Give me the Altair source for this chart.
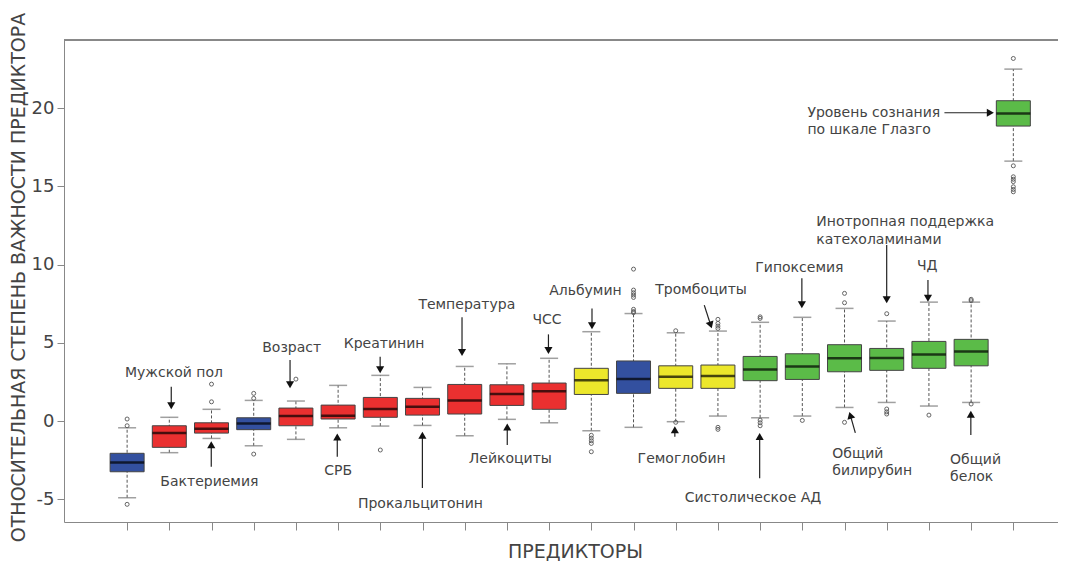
import math
import altair as alt
import pandas as pd

# ---------------- data ----------------
positions = list(range(1, 23))
groups = ["blue", "red", "red", "blue", "red", "red", "red", "red", "red", "red", "red",
          "yellow", "blue", "yellow", "yellow", "green", "green", "green", "green", "green",
          "green", "green"]
lower = [-4.90, -2.02, -1.11, -1.58, -1.17, -0.43, -0.32, -0.28, -0.94, 0.11, -0.11,
         -0.62, -0.40, -0.04, 0.32, 0.21, 0.32, 0.87, 1.19, 0.96, 1.19, 16.61]
q1 = [-3.24, -1.68, -0.77, -0.55, -0.30, 0.13, 0.24, 0.38, 0.45, 1.00, 0.75,
      1.70, 1.77, 2.09, 2.09, 2.58, 2.66, 3.15, 3.24, 3.37, 3.53, 18.85]
median = [-2.65, -0.77, -0.49, -0.15, 0.32, 0.34, 0.77, 0.92, 1.32, 1.73, 1.90,
          2.60, 2.69, 2.83, 2.88, 3.30, 3.49, 4.01, 4.03, 4.26, 4.45, 19.66]
q3 = [-2.06, -0.30, -0.11, 0.21, 0.83, 1.02, 1.51, 1.45, 2.34, 2.32, 2.43,
      3.37, 3.84, 3.53, 3.58, 4.13, 4.30, 4.88, 4.64, 5.09, 5.22, 20.47]
upper = [-0.43, 0.24, 0.75, 1.32, 1.28, 2.28, 2.92, 2.15, 3.49, 3.66, 4.01,
         5.71, 6.87, 5.64, 5.75, 6.31, 6.63, 7.20, 6.39, 7.60, 7.60, 22.49]

outlier_pos = [1, 1, 1, 3, 3, 4, 4, 4, 5, 7,
               12, 12, 12, 12, 12,
               13, 13, 13, 13, 13, 13, 13, 13,
               14, 14, 15, 15, 15, 15, 15, 15,
               16, 16, 16, 16, 16, 17, 18, 18, 18,
               19, 19, 19, 19, 20, 21, 21, 21,
               22, 22, 22, 22, 22, 22, 22, 22]
outlier_val = [0.13, -0.30, -5.32, 1.23, 2.36, 1.77, 1.45, -2.11, 2.68, -1.85,
               -0.91, -1.09, -1.26, -1.43, -1.96,
               9.71, 8.37, 8.20, 8.05, 7.90, 7.14, 7.00, 6.93,
               5.77, -0.08, 6.50, 6.24, 6.07, 5.92, -0.40, -0.53,
               6.66, 6.56, 0.06, -0.11, -0.30, 0.04, 7.56, 8.16, -0.08,
               6.86, 0.77, 0.59, 0.45, 0.38, 7.78, 7.69, 1.09,
               23.17, 16.31, 15.61, 15.45, 15.30, 14.97, 14.80, 14.65]

# centred annotation labels (category position, value)
label_text = ["Мужской пол", "Бактериемия", "Возраст", "СРБ", "Креатинин",
              "Прокальцитонин", "Температура", "Лейкоциты", "ЧСС", "Альбумин",
              "Тромбоциты", "Гемоглобин", "Систолическое АД", "Гипоксемия", "ЧД"]
label_x = [2.11, 2.95, 4.90, 6.00, 7.09, 7.95, 9.05, 10.08, 10.95, 11.86,
           14.60, 14.14, 15.83, 16.93, 19.96]
label_y = [3.07, -3.90, 4.70, -3.19, 4.92, -5.30, 7.41, -2.43, 6.45, 8.31,
           8.37, -2.43, -4.89, 9.81, 9.90]

# left-aligned two-line labels
mlabel_text = ["Общий\nбилирубин", "Инотропная поддержка\nкатехоламинами",
               "Общий\nбелок", "Уровень сознания\nпо шкале Глазго"]
mlabel_x = [17.71, 17.33, 20.50, 17.12]
mlabel_y = [-2.09, 12.70, -2.47, 19.69]

# arrows: start (x1, y1) -> tip (x2, y2)
arrow_x1 = [2.046, 2.994, 4.861, 5.980, 6.996, 7.997, 8.936, 10.008, 10.984, 12.016,
            14.676, 13.979, 15.989, 16.989, 18.256, 18.999, 19.977, 20.993, 20.367]
arrow_y1 = [2.19, -2.92, 3.90, -2.28, 4.11, -4.28, 6.63, -1.53, 5.54, 7.20,
            7.41, -1.00, -3.66, 9.12, -0.75, 11.25, 9.01, -0.89, 19.70]
arrow_x2 = [2.046, 2.994, 4.861, 5.980, 6.996, 7.997, 8.936, 10.008, 10.984, 12.016,
            14.854, 13.979, 15.989, 16.989, 18.115, 18.999, 19.977, 20.993, 21.540]
arrow_y2 = [0.75, -1.28, 2.09, -0.79, 3.05, -0.68, 4.15, -0.15, 4.28, 5.86,
            5.92, -0.32, -0.75, 7.20, 0.59, 7.52, 7.62, 0.66, 19.70]

group_domain = ["blue", "red", "yellow", "green"]
group_colors = ["#33509f", "#ea3030", "#ece72b", "#5bbb48"]

# ---------------- layout ----------------
W, H = 994, 482
XMIN, XMAX = -0.377, 22.94
YMIN, YMAX = -6.45, 24.35
FONT = "DejaVu Sans"
TXT = "#444444"

boxes = pd.DataFrame({"pos": positions, "grp": groups, "lo": lower, "q1": q1,
                      "med": median, "q3": q3, "hi": upper})
caps = pd.DataFrame({"pos": positions + positions, "v": lower + upper})
outl = pd.DataFrame({"pos": outlier_pos, "v": outlier_val})
labels = pd.DataFrame({"x": label_x, "y": label_y, "t": label_text})
mlabels = pd.DataFrame({"x": mlabel_x, "y": mlabel_y, "t": mlabel_text})

# arrow heads (triangle rotated along the arrow)
pxx = W / (XMAX - XMIN)
pxy = H / (YMAX - YMIN)
OFF = 3.6
rows = []
for x1, y1, x2, y2 in zip(arrow_x1, arrow_y1, arrow_x2, arrow_y2):
    dx = (x2 - x1) * pxx
    dy = (y2 - y1) * pxy
    L = math.hypot(dx, dy)
    ux, uy = dx / L, dy / L
    ang = math.degrees(math.atan2(ux, uy)) % 360
    hx = x2 - OFF * ux / pxx
    hy = y2 - OFF * uy / pxy
    rows.append({"x1": x1, "y1": y1, "hx": hx, "hy": hy, "ang": ang})
arrows = pd.DataFrame(rows)

xscale = alt.Scale(domain=[XMIN, XMAX], nice=False, zero=False)
yscale = alt.Scale(domain=[YMIN, YMAX], nice=False, zero=False)
xaxis = alt.Axis(values=positions, labels=False, ticks=True, tickSize=8,
                 tickColor="#888", domainColor="#888", grid=False,
                 title="ПРЕДИКТОРЫ", titleFont=FONT, titleFontSize=19,
                 titleFontWeight="normal", titleColor=TXT, titlePadding=12,
                 titleX=511)
yaxis = alt.Axis(values=[-5, 0, 5, 10, 15, 20], labelExpr="'' + datum.value",
                 grid=False, tickSize=7, tickColor="#888", domainColor="#888",
                 labelPadding=3, labelFont=FONT, labelFontSize=18, labelColor=TXT,
                 title="ОТНОСИТЕЛЬНАЯ СТЕПЕНЬ ВАЖНОСТИ ПРЕДИКТОРА", titleFont=FONT,
                 titleFontSize=19, titleFontWeight="normal", titleColor=TXT,
                 titleX=-36, titleY=237)


def X(f):
    return alt.X(f"{f}:Q", scale=xscale, axis=xaxis)


def Y(f):
    return alt.Y(f"{f}:Q", scale=yscale, axis=yaxis)


base = alt.Chart(boxes)

top_border = alt.Chart(boxes).mark_rule(color="#888", strokeWidth=1).encode(
    x=alt.value(0), x2=alt.value(W), y=alt.value(0))

whisk = base.mark_rule(color="#555", strokeWidth=1, strokeDash=[3, 2]).encode(
    x=X("pos"), y=Y("lo"), y2="hi:Q")

capm = alt.Chart(caps).mark_tick(orient="horizontal", size=18, thickness=1.5,
                                 color="#777").encode(x=X("pos"), y=Y("v"))

boxm = base.mark_bar(size=34, stroke="#444", strokeWidth=1).encode(
    x=X("pos"), y=Y("q1"), y2="q3:Q",
    color=alt.Color("grp:N", scale=alt.Scale(domain=group_domain, range=group_colors),
                    legend=None))

medm = base.mark_tick(orient="horizontal", size=34, thickness=2.5, color="#000").encode(
    x=X("pos"), y=Y("med"))

outm = alt.Chart(outl).mark_point(shape="circle", filled=False, size=16,
                                  color="#555", strokeWidth=0.9, opacity=1).encode(
    x=X("pos"), y=Y("v"))

arr_lines = alt.Chart(arrows).mark_rule(color="#222", strokeWidth=1.2).encode(
    x=X("x1"), y=Y("y1"), x2="hx:Q", y2="hy:Q")

arr_heads = alt.Chart(arrows).mark_point(shape="triangle-up", filled=True, size=66,
                                         color="#111", opacity=1).encode(
    x=X("hx"), y=Y("hy"), angle=alt.Angle("ang:Q", scale=None))

txt = alt.Chart(labels).mark_text(font=FONT, fontSize=14, color=TXT, align="center",
                                  baseline="middle").encode(
    x=X("x"), y=Y("y"), text="t:N")

mtxt = alt.Chart(mlabels).mark_text(font=FONT, fontSize=14, color=TXT, align="left",
                                    baseline="middle", lineBreak="\n",
                                    lineHeight=17.5).encode(
    x=X("x"), y=Y("y"), text="t:N")

chart = alt.layer(top_border, whisk, capm, boxm, medm, outm, arr_lines, arr_heads,
                  txt, mtxt).properties(
    width=W, height=H,
    padding={"left": 56, "top": 32, "right": 0, "bottom": 40},
    autosize=alt.AutoSizeParams(type="none"),
    background="white",
).configure_view(stroke=None)

chart.save("out.html", embed_options={"renderer": "svg", "actions": False})
